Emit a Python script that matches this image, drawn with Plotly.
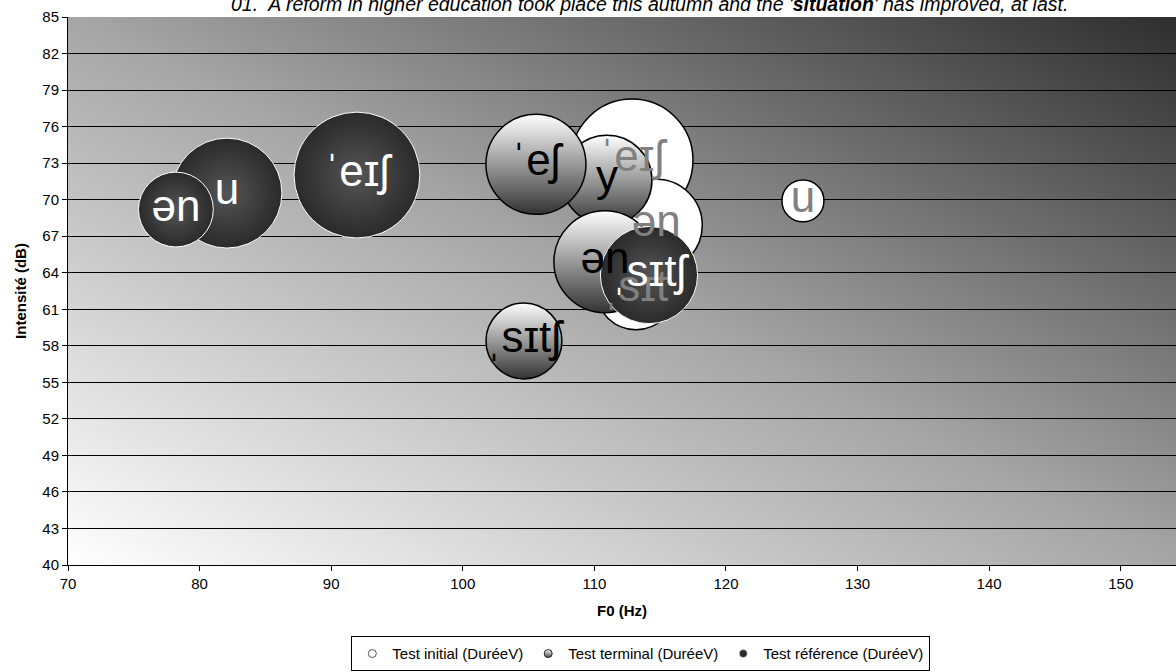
import base64
import plotly.graph_objects as go

# F0 (Hz), intensity (dB) and vowel duration for each syllable, per test
init_labels = ["ˈeɪʃ", "ən", "ˌsɪt", "u"]
init_f0 = [112.86, 114.7, 113.16, 125.85]
init_db = [73.25, 67.9, 62.6, 69.9]
init_dur = [186, 106, 80, 22]

term_labels = ["y", "ˈeʃ", "ən", "ˌsɪtʃ"]
term_f0 = [110.96, 105.56, 110.8, 104.65]
term_db = [71.6, 72.9, 64.9, 58.4]
term_dur = [101, 125, 130, 72]

ref_labels = ["u", "ən", "ˈeɪʃ", "ˌsɪtʃ"]
ref_f0 = [82.08, 78.2, 91.96, 114.15]
ref_db = [70.54, 69.19, 72.02, 63.81]
ref_dur = [151, 70, 198, 118]

series_names = ["Test initial (DuréeV)", "Test terminal (DuréeV)", "Test référence (DuréeV)"]
x_ticks = [70, 80, 90, 100, 110, 120, 130, 140, 150]
y_ticks = list(range(40, 86, 3))

FONT = "Liberation Sans, Arial, sans-serif"
SIZEREF = 0.025  # bubble area proportional to duration

fig = go.Figure()

# diagonal grey gradient behind the plot area
svg = (
    '<svg xmlns="http://www.w3.org/2000/svg" width="400" height="200" preserveAspectRatio="none">'
    '<defs><linearGradient id="g" x1="0" y1="1" x2="1" y2="0">'
    '<stop offset="0" stop-color="#ffffff"/><stop offset="0.5" stop-color="#a6a6a6"/>'
    '<stop offset="1" stop-color="#2e2e2e"/>'
    '</linearGradient></defs><rect width="400" height="200" fill="url(#g)"/></svg>'
)
bg_uri = "data:image/svg+xml;base64," + base64.b64encode(svg.encode()).decode()

bubble_styles = [
    dict(color="#ffffff", line=dict(color="#000000", width=1.5)),
    dict(color="#ffffff", line=dict(color="#000000", width=1.5),
         gradient=dict(type="vertical", color="#333333")),
    dict(color="#2a2a2a", line=dict(color="#ffffff", width=1),
         gradient=dict(type="radial", color="#555555")),
]
text_colors = ["#808080", "#000000", "#ffffff"]
series = [
    (init_f0, init_db, init_dur, init_labels),
    (term_f0, term_db, term_dur, term_labels),
    (ref_f0, ref_db, ref_dur, ref_labels),
]

for (xs, ys, ds, _), style in zip(series, bubble_styles):
    fig.add_trace(go.Scatter(
        x=xs, y=ys, mode="markers", showlegend=False, hoverinfo="skip",
        marker=dict(size=ds, sizemode="area", sizeref=SIZEREF, opacity=1, **style),
    ))

# data labels sit above every bubble
for (xs, ys, _, labels), col in zip(series, text_colors):
    fig.add_trace(go.Scatter(
        x=xs, y=ys, mode="text", text=labels, textposition="middle center",
        textfont=dict(family=FONT, size=44, color=col),
        showlegend=False, hoverinfo="skip",
    ))

legend_markers = [
    dict(color="#ffffff", line=dict(color="#555555", width=1)),
    dict(color="#ffffff", line=dict(color="#222222", width=1),
         gradient=dict(type="vertical", color="#444444")),
    dict(color="#2a2a2a", line=dict(color="#ffffff", width=0.5)),
]
for name, mk in zip(series_names, legend_markers):
    fig.add_trace(go.Scatter(
        x=[None], y=[None], mode="markers", name=name,
        marker=dict(size=8, symbol="circle", **mk),
    ))

fig.update_layout(
    width=1176, height=672,
    margin=dict(l=68, r=0, t=17, b=107),
    paper_bgcolor="#ffffff",
    plot_bgcolor="rgba(0,0,0,0)",
    font=dict(family=FONT, size=13, color="#000000"),
    images=[dict(source=bg_uri, xref="paper", yref="paper", x=0, y=1,
                 sizex=1, sizey=1, sizing="stretch", layer="below",
                 xanchor="left", yanchor="top")],
    annotations=[dict(
        text="<i>01.  A reform in higher education took place this autumn and the '<b>situation</b>' has improved, at last.</i>",
        xref="paper", yref="paper", x=0.525, y=1.0, yshift=13,
        xanchor="center", yanchor="middle", showarrow=False,
        font=dict(family=FONT, size=19.5, color="#000000"),
    )],
    legend=dict(
        orientation="h", x=0.517, xanchor="center", y=-0.194, yanchor="bottom",
        bgcolor="#ffffff", bordercolor="#000000", borderwidth=1,
        font=dict(family=FONT, size=15), itemwidth=30,
        tracegroupgap=0,
    ),
    xaxis=dict(
        range=[70, 154.2], tickvals=x_ticks, showgrid=False, zeroline=False,
        showline=True, linecolor="#000000", linewidth=1,
        ticks="outside", ticklen=5, tickcolor="#000000",
        tickfont=dict(family=FONT, size=15, color="#000000"),
        title=dict(text="<b>F0 (Hz)</b>", font=dict(family=FONT, size=15), standoff=14),
    ),
    yaxis=dict(
        range=[40, 85], tickvals=y_ticks, showgrid=True, gridcolor="#000000", gridwidth=1,
        zeroline=False, showline=True, linecolor="#000000", linewidth=1,
        ticks="outside", ticklen=5, tickcolor="#000000",
        tickfont=dict(family=FONT, size=15, color="#000000"),
        title=dict(text="<b>Intensité (dB)</b>", font=dict(family=FONT, size=15), standoff=12),
    ),
)

fig.write_html("out.html")
